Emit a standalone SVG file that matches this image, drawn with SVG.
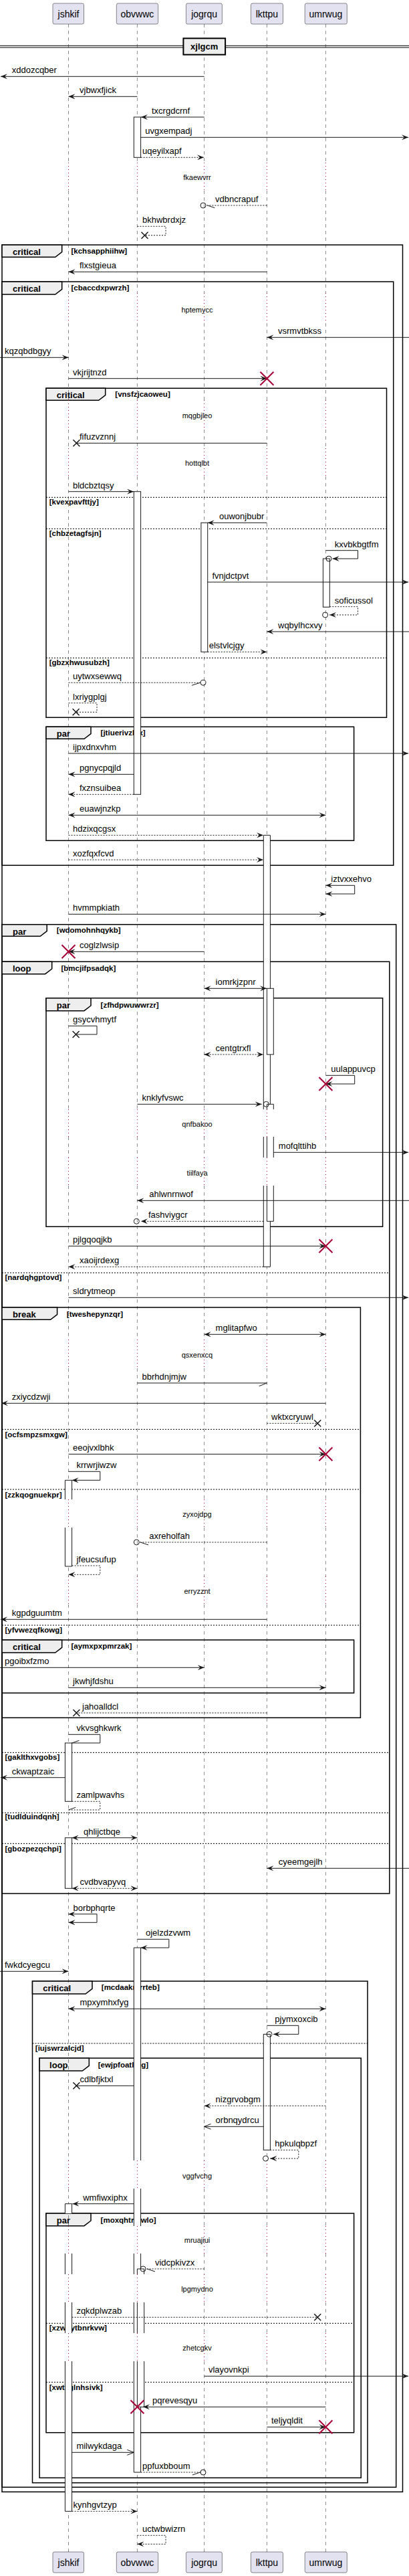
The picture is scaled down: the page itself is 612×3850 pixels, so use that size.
<svg xmlns="http://www.w3.org/2000/svg" xmlns:xlink="http://www.w3.org/1999/xlink" width="612" height="3850" viewBox="0 0 612 3850">
<style>
text{font-family:"Liberation Sans",Arial,sans-serif;fill:#000}
.p{fill:#E2E2F0;stroke:#181818;stroke-width:0.5}
.pt{font-size:14px;text-anchor:middle}
.ll{stroke:#181818;stroke-width:0.5;stroke-dasharray:5,5;fill:none}
.dl{stroke:#A80036;stroke-width:1;stroke-dasharray:1,4;fill:none}
.fr{fill:none;stroke:#000;stroke-width:1.5}
.tab{fill:#EEEEEE;stroke:#000;stroke-width:1.5}
.sep{stroke:#000;stroke-width:1;stroke-dasharray:2,2;fill:none}
.fl{font-size:13px;font-weight:bold}
.g{font-size:11.5px;font-weight:bold}
.m{stroke:#181818;stroke-width:1;fill:none}
.d{stroke-dasharray:2,2}
.t{font-size:13px}
.dt{font-size:11px;text-anchor:middle}
.xs{stroke:#181818;stroke-width:1.5;fill:none}
.xr{stroke:#A80036;stroke-width:2;fill:none}
.c{fill:none;stroke:#181818;stroke-width:1}
.act{fill:#fff;stroke:#181818;stroke-width:1}
.af{fill:#fff;stroke:none}
.al{fill:none;stroke:#181818;stroke-width:1}
</style>
<defs>
<marker id="ah" viewBox="0 0 10 8" refX="10" refY="4" markerWidth="10" markerHeight="8" markerUnits="userSpaceOnUse" orient="auto-start-reverse"><path d="M0,0L10,4L0,8L4,4Z" fill="#181818"/></marker>
<marker id="ao" viewBox="-1 -1 12 10" refX="10" refY="4" markerWidth="12" markerHeight="10" markerUnits="userSpaceOnUse" orient="auto-start-reverse"><path d="M0,0L10,4L0,8" fill="none" stroke="#181818" stroke-width="1"/></marker>
<path id="lld" d="M0,36V243M0,285V438M0,483V598M0,642V670M0,712V1658M0,1699V1730M0,1772V2002M0,2045V2241M0,2283V2356M0,2398V3229M0,3271V3327M0,3368V3399M0,3441V3487M0,3529V3814"/>
<path id="lldot" d="M0,243V285M0,438V483M0,598V642M0,670V712M0,1658V1699M0,1730V1772M0,2002V2045M0,2241V2283M0,2356V2398M0,3229V3271M0,3327V3368M0,3399V3441M0,3487V3529"/>
<path id="xsm" d="M-5,-5L5,5M-5,5L5,-5"/>
<path id="xrd" d="M-10,-10L10,10M-10,10L10,-10"/>
</defs>
<rect width="612" height="3850" fill="#fff"/>

<g id="frames">
<g id="f-kchsapphiihw"><rect class="fr" x="3" y="366" width="599.5" height="3358.3"/><polygon class="tab" points="3,366 92.7,366 92.7,376.6 82.7,384.3 3,384.3"/><text class="fl" x="19" y="381">critical</text><text class="g" x="106.5" y="379.3">[kchsapphiihw]</text></g>
<g id="f-cbaccdxpwrzh"><rect class="fr" x="3" y="421" width="585.7" height="872.3"/><polygon class="tab" points="3,421 92.7,421 92.7,432.3 82.7,440 3,440"/><text class="fl" x="19" y="436">critical</text><text class="g" x="106.5" y="434.3">[cbaccdxpwrzh]</text></g>
<g id="f-vnsfzjcaoweu"><rect class="fr" x="69" y="580.3" width="509.5" height="492"/><polygon class="tab" points="69,580.3 157.7,580.3 157.7,590.6 147.7,598.3 69,598.3"/><text class="fl" x="84.8" y="595.3">critical</text><text class="g" x="172.3" y="593.3">[vnsfzjcaoweu]</text>
<line class="sep" x1="69" y1="743.3" x2="578.5" y2="743.3"/><text class="g" x="73.7" y="754.3">[kvexpavfttjy]</text>
<line class="sep" x1="69" y1="790.3" x2="578.5" y2="790.3"/><text class="g" x="73.7" y="801">[chbzetagfsjn]</text>
<line class="sep" x1="69" y1="983.3" x2="578.5" y2="983.3"/><text class="g" x="73.7" y="994.3">[gbzxhwusubzh]</text></g>
<g id="f-jtiuerivzlex"><rect class="fr" x="69" y="1086.3" width="460.6" height="170"/><polygon class="tab" points="69,1086.3 136,1086.3 136,1096.6 126,1104.3 69,1104.3"/><text class="fl" x="84.8" y="1101.3">par</text><text class="g" x="150.6" y="1099.3">[jtiuerivzlex]</text></g>
<g id="f-wdomohnhqykb"><rect class="fr" x="3" y="1381.7" width="589.7" height="2335.6"/><polygon class="tab" points="3,1381.7 70.2,1381.7 70.2,1391.6 60.2,1399.3 3,1399.3"/><text class="fl" x="19" y="1396.7">par</text><text class="g" x="84.8" y="1394.3">[wdomohnhqykb]</text></g>
<g id="f-bmcjifpsadqk"><rect class="fr" x="3" y="1437.3" width="579.8" height="1392.7"/><polygon class="tab" points="3,1437.3 77.7,1437.3 77.7,1448 67.7,1455.7 3,1455.7"/><text class="fl" x="19" y="1452.3">loop</text><text class="g" x="91.5" y="1450.7">[bmcjifpsadqk]</text>
<line class="sep" x1="3" y1="1902.3" x2="582.8" y2="1902.3"/><text class="g" x="7.5" y="1912.7">[nardqhgptovd]</text>
<line class="sep" x1="3" y1="2619.3" x2="582.8" y2="2619.3"/><text class="g" x="7.5" y="2630.3">[gaklthxvgobs]</text>
<line class="sep" x1="3" y1="2709.3" x2="582.8" y2="2709.3"/><text class="g" x="7.5" y="2719.3">[tudlduindqnh]</text>
<line class="sep" x1="3" y1="2755.3" x2="582.8" y2="2755.3"/><text class="g" x="7.5" y="2766.7">[gbozpezqchpi]</text></g>
<g id="f-zfhdpwuwwrzr"><rect class="fr" x="69" y="1491.7" width="503.6" height="341.6"/><polygon class="tab" points="69,1491.7 136,1491.7 136,1503 126,1510.7 69,1510.7"/><text class="fl" x="84.8" y="1506.7">par</text><text class="g" x="150.6" y="1505.7">[zfhdpwuwwrzr]</text></g>
<g id="f-tweshepynzqr"><rect class="fr" x="3" y="1954" width="536.4" height="613.3"/><polygon class="tab" points="3,1954 85.6,1954 85.6,1964.6 75.6,1972.3 3,1972.3"/><text class="fl" x="19" y="1969">break</text><text class="g" x="99.8" y="1967.7">[tweshepynzqr]</text>
<line class="sep" x1="3" y1="2136.3" x2="539.4" y2="2136.3"/><text class="g" x="7.5" y="2147.7">[ocfsmpzsmxgw]</text>
<line class="sep" x1="3" y1="2226" x2="539.4" y2="2226"/><text class="g" x="7.5" y="2237.7">[zzkqognuekpr]</text>
<line class="sep" x1="3" y1="2429" x2="539.4" y2="2429"/><text class="g" x="7.5" y="2440">[yfvwezqfkowg]</text></g>
<g id="f-aymxpxpmrzak"><rect class="fr" x="3" y="2451" width="526.6" height="79.3"/><polygon class="tab" points="3,2451 92.7,2451 92.7,2462.3 82.7,2470 3,2470"/><text class="fl" x="19" y="2466">critical</text><text class="g" x="106.5" y="2464.3">[aymxpxpmrzak]</text></g>
<g id="f-mcdaakmrrteb"><rect class="fr" x="48.5" y="2961" width="501.5" height="749.7"/><polygon class="tab" points="48.5,2961 138,2961 138,2972.3 128,2980 48.5,2980"/><text class="fl" x="64.3" y="2976">critical</text><text class="g" x="151.8" y="2974.3">[mcdaakmrrteb]</text>
<line class="sep" x1="48.5" y1="3054" x2="550" y2="3054"/><text class="g" x="52.8" y="3065.3">[iujswrzalcjd]</text></g>
<g id="f-ewjpfoatltpg"><rect class="fr" x="59.1" y="3076" width="481.1" height="627.3"/><polygon class="tab" points="59.1,3076 133.3,3076 133.3,3087.3 123.3,3095 59.1,3095"/><text class="fl" x="74.1" y="3091">loop</text><text class="g" x="146.7" y="3090">[ewjpfoatltpg]</text></g>
<g id="f-moxqhtrctwlo"><rect class="fr" x="69" y="3308" width="460.6" height="327.7"/><polygon class="tab" points="69,3308 136,3308 136,3319 126,3326.7 69,3326.7"/><text class="fl" x="84.8" y="3322.7">par</text><text class="g" x="150.6" y="3321.7">[moxqhtrctwlo]</text>
<line class="sep" x1="69" y1="3472.3" x2="529.6" y2="3472.3"/><text class="g" x="73.7" y="3483.3">[xzwnytbnrkvw]</text>
<line class="sep" x1="69" y1="3560.3" x2="529.6" y2="3560.3"/><text class="g" x="73.7" y="3571.7">[xwtkglnhsivk]</text></g>
</g>

<g id="lifelines">
<use href="#lld" x="102.5" class="ll"/><use href="#lldot" x="102.5" class="dl"/>
<use href="#lld" x="205.4" class="ll"/><use href="#lldot" x="205.4" class="dl"/>
<use href="#lld" x="305.6" class="ll"/><use href="#lldot" x="305.6" class="dl"/>
<use href="#lld" x="399.4" class="ll"/><use href="#lldot" x="399.4" class="dl"/>
<use href="#lld" x="487.4" class="ll"/><use href="#lldot" x="487.4" class="dl"/>
</g>

<g id="delays">
<text class="dt" x="295" y="269">fkaewvrr</text>
<text class="dt" x="295" y="466.7">hptemycc</text>
<text class="dt" x="295" y="624.7">mqgbjleo</text>
<text class="dt" x="295" y="696.3">hottqlbt</text>
<text class="dt" x="295" y="1684.3">qnfbakoo</text>
<text class="dt" x="295" y="1756.7">tiilfaya</text>
<text class="dt" x="295" y="2028.7">qsxenxcq</text>
<text class="dt" x="295" y="2267.3">zyxojdpg</text>
<text class="dt" x="295" y="2382.3">erryzznt</text>
<text class="dt" x="295" y="3255.7">vggfvchg</text>
<text class="dt" x="295" y="3352.3">mruajiui</text>
<text class="dt" x="295" y="3425.3">lpgmydno</text>
<text class="dt" x="295" y="3513.3">zhetcgkv</text>
</g>

<g id="divider">
<line x1="0" y1="68.3" x2="612" y2="68.3" stroke="#000" stroke-width="1"/>
<line x1="0" y1="71" x2="612" y2="71" stroke="#000" stroke-width="1"/>
<rect x="274.4" y="57.3" width="62.7" height="24.4" fill="#EEEEEE" stroke="#000" stroke-width="2"/>
<text class="fl" x="305.7" y="74" text-anchor="middle">xjlgcm</text>
</g>

<g id="activations">
<rect class="act" x="200.3" y="175" width="10.3" height="60.3"/>
<rect class="act" x="200.3" y="734.7" width="10.3" height="452.6"/>
<rect class="act" x="300.9" y="781.3" width="9.8" height="193"/>
<rect class="act" x="483.4" y="835" width="9.9" height="72.3"/>
<g id="a5"><rect class="af" x="394.3" y="1248.3" width="10.1" height="409.7"/><rect class="af" x="394.3" y="1699" width="10.1" height="31"/><rect class="af" x="394.3" y="1772" width="10.1" height="121.3"/>
<path class="al" d="M394.3,1658V1248.3H404.4V1658M394.3,1699V1730M404.4,1699V1730M394.3,1772V1893.3H404.4V1772"/></g>
<rect class="act" x="399.4" y="1477.3" width="9.9" height="98.7"/>
<g id="a7"><rect class="af" x="399.4" y="1650.3" width="9.9" height="7.7"/><rect class="af" x="399.4" y="1699" width="9.9" height="31"/><rect class="af" x="399.4" y="1772" width="9.9" height="53.3"/>
<path class="al" d="M399.4,1658V1650.3H409.3V1658M399.4,1699V1730M409.3,1699V1730M399.4,1772V1825.3H409.3V1772"/></g>
<g id="a8"><rect class="af" x="97.4" y="2212.3" width="10.2" height="28.7"/><rect class="af" x="97.4" y="2283" width="10.2" height="58"/>
<path class="al" d="M97.4,2241V2212.3H107.6V2241M97.4,2283V2341H107.6V2283"/></g>
<rect class="act" x="97.4" y="2605" width="10.2" height="87.3"/>
<rect class="act" x="97.4" y="2746.7" width="10.2" height="75.6"/>
<g id="a11"><rect class="af" x="200.3" y="2911" width="10.3" height="318"/><rect class="af" x="200.3" y="3271" width="10.3" height="56"/><rect class="af" x="200.3" y="3368" width="10.3" height="31"/><rect class="af" x="200.3" y="3441" width="10.3" height="46"/><rect class="af" x="200.3" y="3529" width="10.3" height="166"/>
<path class="al" d="M200.3,3229V2911H210.6V3229M200.3,3271V3327M210.6,3271V3327M200.3,3368V3399M210.6,3368V3399M200.3,3441V3487M210.6,3441V3487M200.3,3529V3695H210.6V3529"/></g>
<rect class="act" x="394.3" y="3040.3" width="10.1" height="173"/>
<g id="a13"><rect class="af" x="97.4" y="3293.7" width="10.2" height="14.3"/><rect class="af" x="97.4" y="3368" width="10.2" height="31"/><rect class="af" x="97.4" y="3441" width="10.2" height="46"/><rect class="af" x="97.4" y="3529" width="10.2" height="224.3"/>
<path class="al" d="M97.4,3308V3293.7H107.6V3308M97.4,3368V3399M107.6,3368V3399M97.4,3441V3487M107.6,3441V3487M97.4,3529V3753.3H107.6V3529"/></g>
<g id="a14"><rect class="af" x="205.4" y="3391" width="10.3" height="8"/><rect class="af" x="205.4" y="3441" width="10.3" height="46"/><rect class="af" x="205.4" y="3529" width="10.3" height="68.3"/>
<path class="al" d="M205.4,3399V3391H215.7V3399M205.4,3441V3487M215.7,3441V3487M205.4,3529V3597.3H215.7V3529"/></g>
</g>

<g id="connectors">
<g><line class="m" x1="305.6" y1="114.3" x2="1" y2="114.3" marker-end="url(#ah)"/><text class="t" x="17.7" y="109.3">xddozcqber</text></g>
<g><line class="m" x1="205.4" y1="144.3" x2="102.5" y2="144.3" marker-end="url(#ah)"/><text class="t" x="119" y="139.3">vjbwxfjick</text></g>
<g><line class="m" x1="305.6" y1="175" x2="211" y2="175" marker-end="url(#ah)"/><text class="t" x="227" y="170">txcrgdcrnf</text></g>
<g><line class="m" x1="210.6" y1="205.3" x2="611" y2="205.3" marker-end="url(#ah)"/><text class="t" x="217.3" y="200.3">uvgxempadj</text></g>
<g><line class="m d" x1="210.6" y1="235.3" x2="305" y2="235.3" marker-end="url(#ah)"/><text class="t" x="213" y="230.3">uqeyilxapf</text></g>
<g><line class="m d" x1="399.4" y1="307" x2="308" y2="307"/><circle class="c" cx="304" cy="307" r="4"/><line class="m" x1="310.5" y1="307" x2="321.4" y2="310.7"/><text class="t" x="322" y="302">vdbncrapuf</text></g>
<g><polyline class="m d" points="205.4,338.3 248,338.3 248,351.7 216.5,351.7"/><use href="#xsm" x="216.5" y="351.7" class="xs"/><text class="t" x="213" y="333.3">bkhwbrdxjz</text></g>
<g><line class="m" x1="399.4" y1="406.3" x2="102.5" y2="406.3" marker-end="url(#ah)"/><text class="t" x="119" y="401.3">flxstgieua</text></g>
<g><line class="m" x1="612" y1="504.3" x2="399.4" y2="504.3" marker-end="url(#ah)"/><text class="t" x="416" y="499.3">vsrmvtbkss</text></g>
<g><line class="m" x1="0" y1="534.3" x2="102.5" y2="534.3" marker-end="url(#ah)"/><text class="t" x="7" y="529.3">kqzqbdbgyy</text></g>
<g><line class="m" x1="102.5" y1="565.7" x2="399.4" y2="565.7" marker-end="url(#ah)"/><use href="#xrd" x="399.4" y="565.7" class="xr"/><text class="t" x="109" y="560.7">vkjrijtnzd</text></g>
<g><line class="m" x1="399.4" y1="662.3" x2="114.4" y2="662.3"/><use href="#xsm" x="114.4" y="662.3" class="xs"/><text class="t" x="119" y="657.3">fifuzvznnj</text></g>
<g><line class="m" x1="102.5" y1="734.7" x2="200" y2="734.7" marker-end="url(#ah)"/><text class="t" x="109" y="729.7">bldcbztqsy</text></g>
<g><line class="m" x1="399.4" y1="781.3" x2="310.7" y2="781.3" marker-end="url(#ah)"/><text class="t" x="328" y="776.3">ouwonjbubr</text></g>
<g><polyline class="m" points="487.4,822.7 535.5,822.7 535.5,835 497.6,835" marker-end="url(#ah)"/><circle class="c" cx="492" cy="835" r="4"/><text class="t" x="500.8" y="817.7">kxvbkbgtfm</text></g>
<g><line class="m" x1="310.7" y1="870" x2="611" y2="870" marker-end="url(#ah)"/><text class="t" x="317.4" y="865">fvnjdctpvt</text></g>
<g><polyline class="m d" points="493.3,906.7 535.5,906.7 535.5,919 493,919" marker-end="url(#ah)"/><circle class="c" cx="486.6" cy="919" r="4"/><text class="t" x="500.8" y="901.7">soficussol</text></g>
<g><line class="m" x1="612" y1="944" x2="399.4" y2="944" marker-end="url(#ah)"/><text class="t" x="416" y="939">wqbylhcxvy</text></g>
<g><line class="m d" x1="310.7" y1="974.3" x2="399.4" y2="974.3" marker-end="url(#ah)"/><text class="t" x="312.7" y="969.3">elstvlcjgy</text></g>
<g><line class="m d" x1="102.5" y1="1020.3" x2="300" y2="1020.3"/><circle class="c" cx="304" cy="1020.3" r="4"/><line class="m" x1="287" y1="1024.3" x2="299.5" y2="1020.3"/><text class="t" x="109" y="1015.3">uytwxsewwq</text></g>
<g><polyline class="m d" points="102.5,1050.7 145,1050.7 145,1064.3 113.6,1064.3"/><use href="#xsm" x="113.6" y="1064.3" class="xs"/><text class="t" x="109" y="1045.7">lxriygplgj</text></g>
<g><line class="m" x1="102.5" y1="1126" x2="611" y2="1126" marker-end="url(#ah)"/><text class="t" x="109" y="1121">ijpxdnxvhm</text></g>
<g><line class="m" x1="200.3" y1="1157.3" x2="102.5" y2="1157.3" marker-end="url(#ah)"/><text class="t" x="119" y="1152.3">pgnycpqjld</text></g>
<g><line class="m d" x1="200.3" y1="1187.3" x2="102.5" y2="1187.3" marker-end="url(#ah)"/><text class="t" x="119" y="1182.3">fxznsuibea</text></g>
<g><line class="m" x1="102.5" y1="1218.3" x2="487.4" y2="1218.3" marker-start="url(#ah)" marker-end="url(#ah)"/><text class="t" x="119" y="1213.3">euawjnzkp</text></g>
<g><line class="m d" x1="102.5" y1="1248.3" x2="394" y2="1248.3" marker-end="url(#ah)"/><text class="t" x="109" y="1243.3">hdzixqcgsx</text></g>
<g><line class="m d" x1="102.5" y1="1285" x2="394" y2="1285" marker-end="url(#ah)"/><text class="t" x="109" y="1280">xozfqxfcvd</text></g>
<g><polyline class="m" points="487.4,1323.3 530.7,1323.3 530.7,1336 487.4,1336" marker-start="url(#ah)" marker-end="url(#ah)"/><text class="t" x="495.3" y="1318.3">iztvxxehvo</text></g>
<g><line class="m" x1="102.5" y1="1366.3" x2="487.4" y2="1366.3" marker-end="url(#ah)"/><text class="t" x="109" y="1361.3">hvmmpkiath</text></g>
<g><line class="m" x1="305.6" y1="1422.3" x2="102.5" y2="1422.3" marker-end="url(#ah)"/><use href="#xrd" x="102.5" y="1422.3" class="xr"/><text class="t" x="119" y="1417.3">coglzlwsip</text></g>
<g><line class="m" x1="305.6" y1="1477.3" x2="399" y2="1477.3" marker-start="url(#ah)" marker-end="url(#ah)"/><text class="t" x="322.6" y="1472.3">iomrkjzpnr</text></g>
<g><polyline class="m" points="102.5,1533.3 145,1533.3 145,1546 113.6,1546"/><use href="#xsm" x="113.6" y="1546" class="xs"/><text class="t" x="109" y="1528.3">gsycvhmytf</text></g>
<g><line class="m d" x1="305.6" y1="1576" x2="394" y2="1576" marker-start="url(#ah)" marker-end="url(#ah)"/><text class="t" x="322.6" y="1571">centgtrxfl</text></g>
<g><polyline class="m" points="487.4,1607.3 530.7,1607.3 530.7,1620 487.4,1620" marker-end="url(#ah)"/><use href="#xrd" x="487.4" y="1620" class="xr"/><text class="t" x="495.3" y="1602.3">uulappuvcp</text></g>
<g><line class="m" x1="205.4" y1="1650.3" x2="391.6" y2="1650.3" marker-end="url(#ah)"/><circle class="c" cx="398.3" cy="1650.3" r="4"/><text class="t" x="212.5" y="1645.3">knklyfvswc</text></g>
<g><line class="m" x1="409.3" y1="1722.3" x2="611" y2="1722.3" marker-end="url(#ah)"/><text class="t" x="416.8" y="1717.3">mofqlttihb</text></g>
<g><line class="m" x1="612" y1="1794.3" x2="205.4" y2="1794.3" marker-end="url(#ah)"/><text class="t" x="223.2" y="1789.3">ahlwnrnwof</text></g>
<g><line class="m d" x1="394.3" y1="1825.3" x2="211" y2="1825.3" marker-end="url(#ah)"/><circle class="c" cx="204.3" cy="1825.3" r="4"/><text class="t" x="222" y="1820.3">fashviygcr</text></g>
<g><line class="m" x1="102.5" y1="1862.3" x2="487.4" y2="1862.3" marker-end="url(#ah)"/><use href="#xrd" x="487.4" y="1862.3" class="xr"/><text class="t" x="109" y="1857.3">pjlgqoqjkb</text></g>
<g><line class="m d" x1="394.3" y1="1893.3" x2="102.5" y2="1893.3" marker-end="url(#ah)"/><text class="t" x="119" y="1888.3">xaoijrdexg</text></g>
<g><line class="m" x1="102.5" y1="1939.3" x2="611" y2="1939.3" marker-end="url(#ah)"/><text class="t" x="109" y="1934.3">sldrytmeop</text></g>
<g><line class="m" x1="305.6" y1="1994.3" x2="487.4" y2="1994.3" marker-start="url(#ah)" marker-end="url(#ah)"/><text class="t" x="322.6" y="1989.3">mglitapfwo</text></g>
<g><line class="m" x1="205.4" y1="2067" x2="399.4" y2="2067"/><line class="m" x1="387.6" y1="2071.7" x2="399.4" y2="2067"/><text class="t" x="212.5" y="2062">bbrhdnjmjw</text></g>
<g><line class="m" x1="487.4" y1="2097.3" x2="2" y2="2097.3" marker-end="url(#ah)"/><text class="t" x="17.7" y="2092.3">zxiycdzwji</text></g>
<g><line class="m d" x1="399.4" y1="2127.3" x2="475.2" y2="2127.3"/><use href="#xsm" x="475.2" y="2127.3" class="xs"/><text class="t" x="406" y="2122.3">wktxcryuwl</text></g>
<g><line class="m" x1="102.5" y1="2173.3" x2="487.4" y2="2173.3" marker-end="url(#ah)"/><use href="#xrd" x="487.4" y="2173.3" class="xr"/><text class="t" x="109" y="2168.3">eeojvxlbhk</text></g>
<g><polyline class="m" points="102.5,2199.3 149.8,2199.3 149.8,2212.3 107.6,2212.3" marker-end="url(#ah)"/><text class="t" x="114.4" y="2194.3">krrwrjiwzw</text></g>
<g><line class="m d" x1="399.4" y1="2305" x2="208.3" y2="2305"/><circle class="c" cx="204.3" cy="2305" r="4"/><line class="m" x1="210" y1="2305" x2="222" y2="2309"/><text class="t" x="223.2" y="2300">axreholfah</text></g>
<g><polyline class="m d" points="107.6,2340 149.8,2340 149.8,2353.3 102.5,2353.3" marker-end="url(#ah)"/><text class="t" x="114.4" y="2335">jfeucsufup</text></g>
<g><line class="m" x1="399.4" y1="2420.3" x2="1" y2="2420.3" marker-end="url(#ah)"/><text class="t" x="17.7" y="2415.3">kgpdguumtm</text></g>
<g><line class="m" x1="0" y1="2492.3" x2="305.6" y2="2492.3" marker-end="url(#ah)"/><text class="t" x="7" y="2487.3">pgoibxfzmo</text></g>
<g><line class="m" x1="102.5" y1="2522.3" x2="487.4" y2="2522.3" marker-end="url(#ah)"/><text class="t" x="109" y="2517.3">jkwhjfdshu</text></g>
<g><line class="m d" x1="399.4" y1="2560" x2="114.4" y2="2560"/><use href="#xsm" x="114.4" y="2560" class="xs"/><text class="t" x="123" y="2555">jahoalldcl</text></g>
<g><polyline class="m" points="102.5,2592.3 149.8,2592.3 149.8,2605 107.6,2605"/><line class="m" x1="107.6" y1="2605" x2="118.3" y2="2601.3"/><text class="t" x="114.4" y="2587.3">vkvsghkwrk</text></g>
<g><line class="m" x1="97.4" y1="2656.7" x2="1" y2="2656.7" marker-end="url(#ah)"/><text class="t" x="17.7" y="2651.7">ckwaptzaic</text></g>
<g><polyline class="m d" points="107.6,2692.3 149.8,2692.3 149.8,2705 102.5,2705"/><line class="m" x1="102.5" y1="2705" x2="113.2" y2="2701.3"/><text class="t" x="114.4" y="2687.3">zamlpwavhs</text></g>
<g><line class="m" x1="107.6" y1="2746.7" x2="205.4" y2="2746.7" marker-start="url(#ah)" marker-end="url(#ah)"/><text class="t" x="125" y="2741.7">qhlijctbqe</text></g>
<g><line class="m" x1="612" y1="2792.3" x2="399.4" y2="2792.3" marker-end="url(#ah)"/><text class="t" x="416.8" y="2787.3">cyeemgejlh</text></g>
<g><line class="m d" x1="107.6" y1="2822.3" x2="205.4" y2="2822.3" marker-start="url(#ah)" marker-end="url(#ah)"/><text class="t" x="119.5" y="2817.3">cvdbvapyvq</text></g>
<g><polyline class="m" points="102.5,2860.7 145,2860.7 145,2873.3 102.5,2873.3" marker-start="url(#ah)" marker-end="url(#ah)"/><text class="t" x="109.6" y="2855.7">borbphqrte</text></g>
<g><polyline class="m" points="205.4,2898.3 252.8,2898.3 252.8,2911 210.6,2911" marker-end="url(#ah)"/><text class="t" x="218" y="2893.3">ojelzdzvwm</text></g>
<g><line class="m" x1="0" y1="2946.3" x2="102.5" y2="2946.3" marker-end="url(#ah)"/><text class="t" x="7" y="2941.3">fwkdcyegcu</text></g>
<g><line class="m" x1="102.5" y1="3002.3" x2="487.4" y2="3002.3" marker-start="url(#ah)" marker-end="url(#ah)"/><text class="t" x="119.5" y="2997.3">mpxymhxfyg</text></g>
<g><polyline class="m" points="399.4,3027.3 446.8,3027.3 446.8,3040.3 409,3040.3" marker-end="url(#ah)"/><circle class="c" cx="403" cy="3040.3" r="4"/><text class="t" x="411.3" y="3022.3">pjymxoxcib</text></g>
<g><line class="m" x1="200.3" y1="3117.3" x2="114.4" y2="3117.3"/><use href="#xsm" x="114.4" y="3117.3" class="xs"/><text class="t" x="119.5" y="3112.3">cdlbfjktxl</text></g>
<g><line class="m d" x1="487.4" y1="3147.3" x2="305.6" y2="3147.3" marker-end="url(#ah)"/><text class="t" x="322.6" y="3142.3">nizgrvobgm</text></g>
<g><line class="m" x1="394.3" y1="3178.3" x2="305.6" y2="3178.3" marker-end="url(#ao)"/><text class="t" x="322.6" y="3173.3">orbnqydrcu</text></g>
<g><polyline class="m d" points="404.2,3213.3 446.8,3213.3 446.8,3226 404.2,3226" marker-end="url(#ah)"/><circle class="c" cx="397.5" cy="3226" r="4"/><text class="t" x="411.3" y="3208.3">hpkulqbpzf</text></g>
<g><line class="m" x1="200.3" y1="3293.7" x2="108.4" y2="3293.7" marker-end="url(#ah)"/><text class="t" x="124.2" y="3288.7">wmfiwxiphx</text></g>
<g><line class="m d" x1="305.6" y1="3391" x2="218.1" y2="3391"/><circle class="c" cx="214.1" cy="3391" r="4"/><line class="m" x1="220" y1="3391" x2="231.9" y2="3395"/><text class="t" x="231.9" y="3386">vidcpkivzx</text></g>
<g><line class="m d" x1="107.6" y1="3463.3" x2="475.2" y2="3463.3"/><use href="#xsm" x="475.2" y="3463.3" class="xs"/><text class="t" x="114.4" y="3458.3">zqkdplwzab</text></g>
<g><line class="m" x1="305.6" y1="3551.3" x2="611" y2="3551.3" marker-end="url(#ah)"/><text class="t" x="311.9" y="3546.3">vlayovnkpi</text></g>
<g><line class="m" x1="487.4" y1="3597.3" x2="214" y2="3597.3" marker-end="url(#ah)"/><use href="#xrd" x="205.4" y="3597.3" class="xr"/><text class="t" x="228" y="3592.3">pqrevesqyu</text></g>
<g><line class="m" x1="399.4" y1="3627.3" x2="487.4" y2="3627.3" marker-end="url(#ah)"/><use href="#xrd" x="487.4" y="3627.3" class="xr"/><text class="t" x="406" y="3622.3">teljyqldit</text></g>
<g><line class="m" x1="107.6" y1="3665.3" x2="200.3" y2="3665.3" marker-end="url(#ao)"/><text class="t" x="114.4" y="3660.3">milwykdaga</text></g>
<g><line class="m d" x1="210.6" y1="3695" x2="300" y2="3695"/><circle class="c" cx="304" cy="3695" r="4"/><line class="m" x1="287.9" y1="3699" x2="299.5" y2="3695"/><text class="t" x="213" y="3690">ppfuxbboum</text></g>
<g><line class="m d" x1="107.6" y1="3753.3" x2="205.4" y2="3753.3" marker-end="url(#ah)"/><text class="t" x="109.6" y="3748.3">kynhgvtzyp</text></g>
<g><polyline class="m d" points="205.4,3789.3 248,3789.3 248,3802.3 205.4,3802.3" marker-end="url(#ah)"/><text class="t" x="213" y="3784.3">uctwbwizrn</text></g>
</g>

<g id="p-jshkif"><rect class="p" x="79" y="5" width="46.5" height="31" rx="2.5"/><text class="pt" x="102.5" y="26">jshkif</text><rect class="p" x="79" y="3814" width="46.5" height="31" rx="2.5"/><text class="pt" x="102.5" y="3835">jshkif</text></g>
<g id="p-obvwwc"><rect class="p" x="174.3" y="5" width="62.3" height="31" rx="2.5"/><text class="pt" x="205.4" y="26">obvwwc</text><rect class="p" x="174.3" y="3814" width="62.3" height="31" rx="2.5"/><text class="pt" x="205.4" y="3835">obvwwc</text></g>
<g id="p-jogrqu"><rect class="p" x="278.4" y="5" width="54" height="31" rx="2.5"/><text class="pt" x="305.6" y="26">jogrqu</text><rect class="p" x="278.4" y="3814" width="54" height="31" rx="2.5"/><text class="pt" x="305.6" y="3835">jogrqu</text></g>
<g id="p-lkttpu"><rect class="p" x="375.4" y="5" width="48.1" height="31" rx="2.5"/><text class="pt" x="399.4" y="26">lkttpu</text><rect class="p" x="375.4" y="3814" width="48.1" height="31" rx="2.5"/><text class="pt" x="399.4" y="3835">lkttpu</text></g>
<g id="p-umrwug"><rect class="p" x="456.2" y="5" width="63.1" height="31" rx="2.5"/><text class="pt" x="487.4" y="26">umrwug</text><rect class="p" x="456.2" y="3814" width="63.1" height="31" rx="2.5"/><text class="pt" x="487.4" y="3835">umrwug</text></g>
</svg>
